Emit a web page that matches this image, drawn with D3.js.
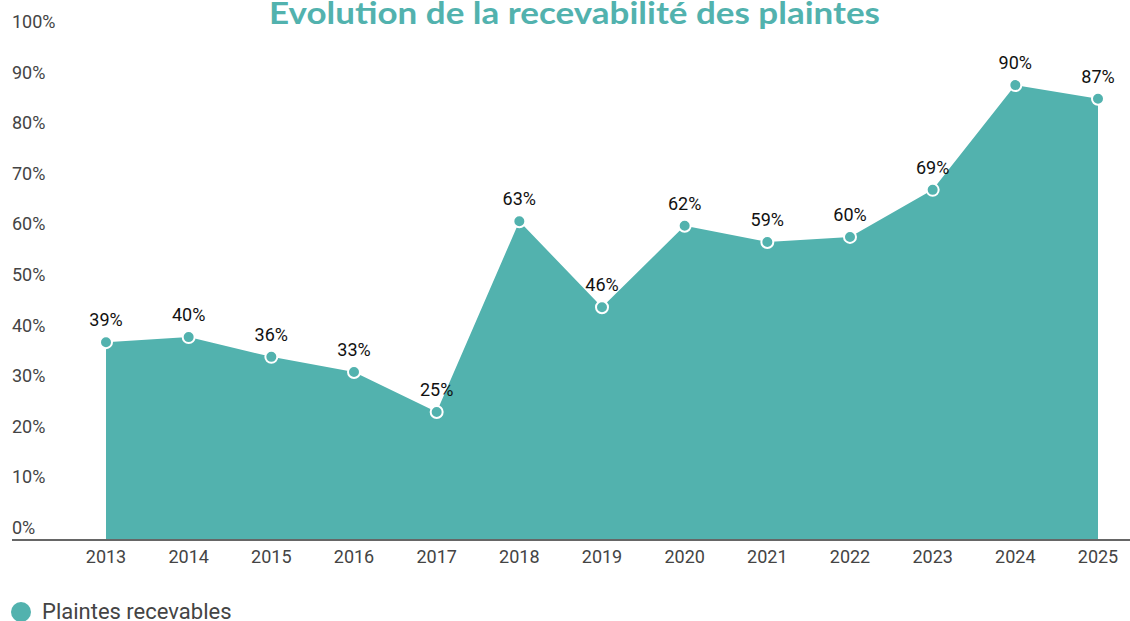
<!DOCTYPE html>
<html><head><meta charset="utf-8">
<script src="https://cdn.jsdelivr.net/npm/d3@7"></script>
<style>body{margin:0;background:#fff;}svg{display:block;}</style>
</head><body>
<svg id="c" width="1130" height="621"></svg>
<script>
const years = ["2013","2014","2015","2016","2017","2018","2019","2020","2021","2022","2023","2024","2025"];
const values = [38.9,39.9,36,33,25.1,62.8,45.8,61.9,58.7,59.7,69,89.7,87];
const labels = ["39%","40%","36%","33%","25%","63%","46%","62%","59%","60%","69%","90%","87%"];
const yTicks = [0,10,20,30,40,50,60,70,80,90,100];
const title = "Evolution de la recevabilité des plaintes";
const seriesName = "Plaintes recevables";

const color = "#52b2ae";
const svg = d3.select("#c");
const x = d3.scalePoint().domain(years).range([106,1098]);
const y = d3.scaleLinear().domain([0,100]).range([539,33]);

svg.append("text").attr("x",269).attr("y",24)
  .attr("font-family","Lato, 'Open Sans', sans-serif").attr("font-weight","bold")
  .attr("font-size",30).attr("fill",color)
  .attr("textLength",611).attr("lengthAdjust","spacingAndGlyphs").text(title);

// y tick labels
svg.append("g").selectAll("text").data(yTicks).join("text")
  .attr("x",12).attr("y",d=>y(d)-5)
  .attr("font-family","Roboto, sans-serif").attr("font-size",18).attr("fill","#444")
  .text(d=>d+"%");

const data = years.map((yr,i)=>({yr,v:values[i],l:labels[i]}));
const area = d3.area().x(d=>x(d.yr)).y0(y(0)).y1(d=>y(d.v));
svg.append("path").datum(data).attr("d",area).attr("fill",color);

// x axis
svg.append("g").selectAll("text").data(years).join("text")
  .attr("x",d=>x(d)).attr("y",y(0)+24).attr("text-anchor","middle")
  .attr("font-family","Roboto, sans-serif").attr("font-size",18).attr("fill","#444")
  .text(d=>d);
svg.append("line").attr("x1",12).attr("x2",1130).attr("y1",y(0)+1).attr("y2",y(0)+1)
  .attr("stroke","#666").attr("stroke-width",2);

svg.append("g").selectAll("circle").data(data).join("circle")
  .attr("cx",d=>x(d.yr)).attr("cy",d=>y(d.v)).attr("r",6)
  .attr("fill",color).attr("stroke","#fff").attr("stroke-width",2);

svg.append("g").selectAll("text").data(data).join("text")
  .attr("x",d=>x(d.yr)).attr("y",d=>y(d.v)-16).attr("text-anchor","middle")
  .attr("font-family","Roboto, sans-serif").attr("font-size",18).attr("fill","#111")
  .text(d=>d.l);

// legend
svg.append("circle").attr("cx",21).attr("cy",612).attr("r",10).attr("fill",color);
svg.append("text").attr("x",42).attr("y",619)
  .attr("font-family","Roboto, sans-serif").attr("font-size",22).attr("fill","#444").text(seriesName);
</script>
</body></html>
